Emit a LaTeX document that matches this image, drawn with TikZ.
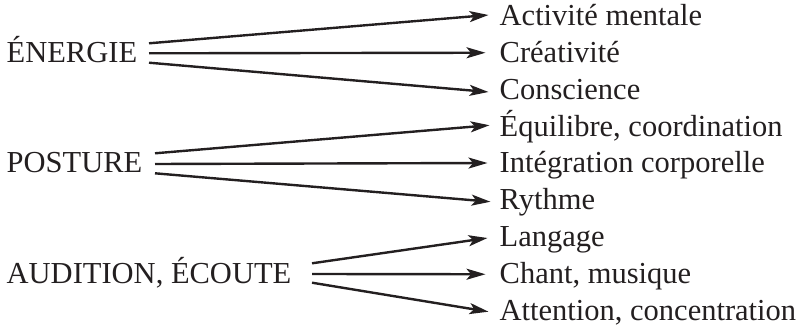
\documentclass[tikz,border=0pt]{standalone}
\usepackage{fontspec}
\setmainfont{Liberation Serif}
\usetikzlibrary{arrows.meta}
\definecolor{encre}{RGB}{35,31,32}
\begin{document}
\begin{tikzpicture}[x=1pt,y=-1pt,
  lab/.style={anchor=base west,inner sep=0pt,text=encre,font=\fontsize{30.5}{36}\selectfont},
  fleche/.style={draw=encre,line width=2.4pt,-{Stealth[length=19pt,width=11pt,inset=4.5pt]}}]
  \useasboundingbox (0,0) rectangle (806,331);

  % Termes de gauche
  \node[lab] (ene) at (6.5,62.75) {ÉNERGIE};
  \node[lab] (pos) at (6.5,173) {POSTURE};
  \node[lab] (aud) at (6.5,283.25) {AUDITION, ÉCOUTE};

  % Termes de droite
  \node[lab] (act) at (499.5,26) {Activité mentale};
  \node[lab] (cre) at (499.5,62.75) {Créativité};
  \node[lab] (con) at (499.5,99.5) {Conscience};
  \node[lab] (equ) at (499.5,136.25) {Équilibre, coordination};
  \node[lab] (int) at (499.5,173) {Intégration corporelle};
  \node[lab] (ryt) at (499.5,209.75) {Rythme};
  \node[lab] (lan) at (499.5,246.5) {Langage};
  \node[lab] (cha) at (499.5,283.25) {Chant, musique};
  \node[lab] (att) at (499.5,320) {Attention, concentration};

  % Points de départ
  \coordinate (e1) at (149,43.3);
  \coordinate (e2) at (149,53.3);
  \coordinate (e3) at (149,62.7);
  \coordinate (p1) at (155,153.3);
  \coordinate (p2) at (155,164);
  \coordinate (p3) at (155,173.3);
  \coordinate (a1) at (312,263.3);
  \coordinate (a2) at (312,274);
  \coordinate (a3) at (312,282.7);

  % Flèches
  \draw[fleche] (e1) -- ([xshift=-11pt,yshift=11pt]act.base west);
  \draw[fleche] (e2) -- ([xshift=-14pt,yshift=10pt]cre.base west);
  \draw[fleche] (e3) -- ([xshift=-11pt,yshift=7.5pt]con.base west);
  \draw[fleche] (p1) -- ([xshift=-10pt,yshift=11pt]equ.base west);
  \draw[fleche] (p2) -- ([xshift=-12pt,yshift=10pt]int.base west);
  \draw[fleche] (p3) -- ([xshift=-9pt,yshift=8pt]ryt.base west);
  \draw[fleche] (a1) -- ([xshift=-12pt,yshift=8.5pt]lan.base west);
  \draw[fleche] (a2) -- ([xshift=-14pt,yshift=9pt]cha.base west);
  \draw[fleche] (a3) -- ([xshift=-11pt,yshift=8.3pt]att.base west);
\end{tikzpicture}
\end{document}
